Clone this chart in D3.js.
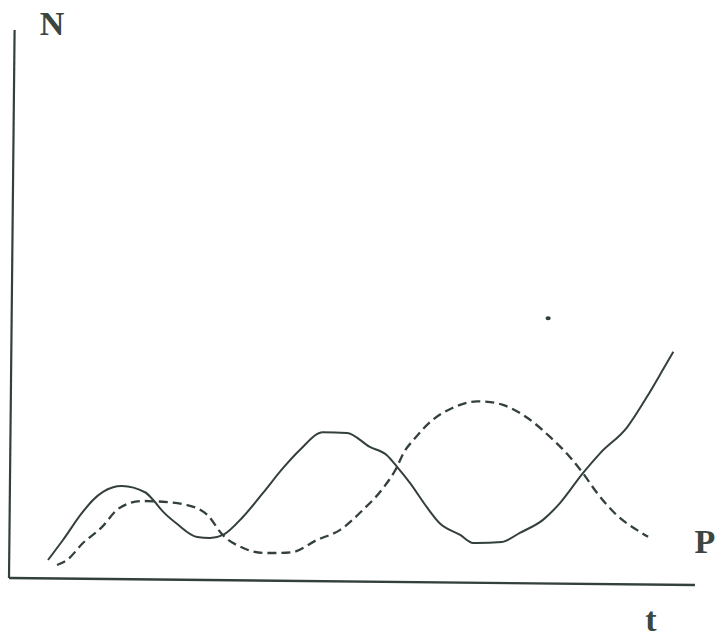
<!DOCTYPE html>
<html>
<head>
<meta charset="utf-8">
<script src="https://cdn.jsdelivr.net/npm/d3@7"></script>
<style>
  html, body { margin: 0; padding: 0; background: #fff; }
  svg { display: block; }
</style>
</head>
<body>
<svg id="chart" width="717" height="641"></svg>
<script>
// time (t) values and population (N) values, abstract units 0-100
const solidT = [5.66, 7.81, 10.54, 12.13, 13.57, 16.34, 19.7, 20.9, 22.35, 24.4, 27.35, 29.24, 31.14, 34.0, 36.9, 39.8, 42.2, 45.55, 49.05, 52.4, 54.9, 56.4, 58.3, 60.8, 62.7, 65.7, 67.6, 71.8, 74.4, 77.75, 80.2, 83.5, 86.0, 89.9, 92.7, 95.0, 96.5];
const solidN = [3.36, 7.03, 12.0, 14.4, 15.9, 17.0, 15.9, 14.5, 12.4, 10.2, 7.83, 7.66, 8.25, 11.57, 16.0, 20.6, 23.9, 27.2, 27.1, 24.6, 23.1, 21.0, 18.1, 13.7, 10.8, 8.7, 7.25, 7.5, 9.2, 11.6, 14.7, 20.2, 23.9, 28.7, 34.2, 39.2, 42.5];

const dashedT = [6.98, 8.43, 10.73, 13.5, 15.6, 17.5, 19.4, 22.3, 25.85, 28.8, 31.1, 34.1, 37.0, 39.5, 41.4, 44.8, 48.2, 51.5, 54.4, 56.4, 57.3, 58.8, 61.3, 64.3, 68.0, 69.9, 71.75, 75.3, 78.7, 81.6, 83.5, 85.6, 88.5, 91.5, 93.1];
const dashedN = [2.46, 3.39, 6.52, 9.5, 12.6, 13.9, 14.3, 14.2, 13.65, 11.9, 8.25, 5.9, 5.04, 5.07, 5.27, 7.5, 9.4, 13.1, 17.1, 21.0, 23.5, 26.0, 29.4, 31.8, 33.1, 33.0, 32.5, 30.2, 26.7, 23.1, 20.2, 16.6, 12.6, 9.9, 8.7];

const speckT = [78.2];
const speckN = [48.4];

const axisLabels = ["N", "P", "t"];

const ink = "#34403a";
const svg = d3.select("#chart");

const origin = [9, 578];
const x = d3.scaleLinear().domain([0, 100]).range([origin[0], origin[0] + 686]);
const y = d3.scaleLinear().domain([0, 100]).range([origin[1], origin[1] - 548]);

// slight scan rotation
const g = svg.append("g").attr("transform", `rotate(0.585, ${origin[0]}, ${origin[1]})`);

// axes
g.append("line")
  .attr("x1", x(0)).attr("y1", y(0)).attr("x2", x(0)).attr("y2", y(100))
  .attr("stroke", ink).attr("stroke-width", 2.2);
g.append("line")
  .attr("x1", x(0)).attr("y1", y(0)).attr("x2", x(100)).attr("y2", y(0))
  .attr("stroke", ink).attr("stroke-width", 2.4);

const line = d3.line()
  .x(d => x(d[0]))
  .y(d => y(d[1]))
  .curve(d3.curveMonotoneX);

g.append("path")
  .datum(solidT.map((t, i) => [t, solidN[i]]))
  .attr("d", line)
  .attr("fill", "none")
  .attr("stroke", ink)
  .attr("stroke-width", 2)
  .attr("stroke-linejoin", "round");

g.append("path")
  .datum(dashedT.map((t, i) => [t, dashedN[i]]))
  .attr("d", line)
  .attr("fill", "none")
  .attr("stroke", ink)
  .attr("stroke-width", 2.3)
  .attr("stroke-dasharray", "9,5");

g.selectAll("ellipse.speck")
  .data(speckT.map((t, i) => [t, speckN[i]]))
  .enter().append("ellipse")
  .attr("class", "speck")
  .attr("cx", d => x(d[0])).attr("cy", d => y(d[1]))
  .attr("rx", 2.6).attr("ry", 2)
  .attr("fill", ink);

// labels
const labelPos = [[52, 35], [705, 553], [651, 631]];
svg.selectAll("text.lbl")
  .data(axisLabels)
  .enter().append("text")
  .attr("class", "lbl")
  .attr("x", (d, i) => labelPos[i][0])
  .attr("y", (d, i) => labelPos[i][1])
  .attr("text-anchor", "middle")
  .attr("font-family", "'Liberation Serif', 'Times New Roman', serif")
  .attr("font-weight", "bold")
  .attr("font-size", 34)
  .attr("fill", "#3a4640")
  .text(d => d);
</script>
</body>
</html>
